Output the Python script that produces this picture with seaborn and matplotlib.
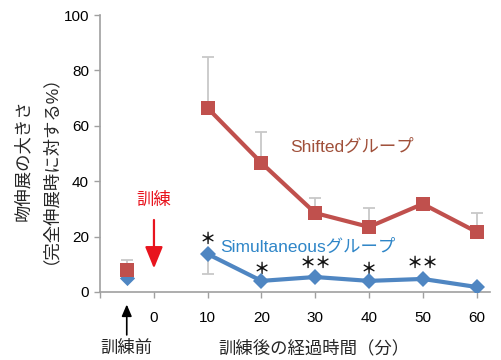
import matplotlib
matplotlib.use("Agg")
import matplotlib.pyplot as plt
import seaborn as sns
import pandas as pd

sns.set_theme(style="white")
plt.rcParams['font.family'] = ['Liberation Sans', 'Noto Sans CJK JP', 'DejaVu Sans']

# Time after training (min); the pre-training point sits at -5
times = [10, 20, 30, 40, 50, 60]
pre_x = -5

shifted = [66.4, 46.6, 28.5, 23.5, 31.8, 21.7]
shifted_err = [18.4, 11.2, 5.5, 6.8, 0.0, 6.8]
shifted_pre = 7.9
shifted_pre_err = 3.6

simul = [13.7, 4.0, 5.4, 4.0, 4.7, 1.8]
simul_err = [7.2, 0.0, 0.0, 0.0, 0.0, 0.0]
simul_pre = 5.0

stars = ["＊", "＊", "＊＊", "＊", "＊＊", ""]
star_y = [19, 8.5, 10.5, 8.5, 10.5, 0]

xticks = [-10, 0, 10, 20, 30, 40, 50, 60]
xticklabels = ["", "0", "10", "20", "30", "40", "50", "60"]

red = "#c0504d"
blue = "#4f86c2"
grey_err = "#c8c8c8"

fig = plt.figure(figsize=(5.01, 3.6), dpi=100)
ax = fig.add_axes([0.2, 0.189, 0.778, 0.769])

df_s = pd.DataFrame({"t": times, "v": shifted})
df_m = pd.DataFrame({"t": times, "v": simul})

# error bars (one-sided)
ax.errorbar(times, shifted, yerr=[[0] * 6, shifted_err], fmt="none",
            ecolor=grey_err, elinewidth=1.3, capsize=4, capthick=1.3, zorder=1)
ax.errorbar(times, simul, yerr=[simul_err, [0] * 6], fmt="none",
            ecolor=grey_err, elinewidth=1.3, capsize=4, capthick=1.3, zorder=1)
ax.errorbar([pre_x], [shifted_pre], yerr=[[0], [shifted_pre_err]], fmt="none",
            ecolor=grey_err, elinewidth=1.3, capsize=4, capthick=1.3, zorder=1)

sns.lineplot(data=df_s, x="t", y="v", ax=ax, color=red, lw=3, marker="s",
             markersize=10, markeredgewidth=0, zorder=3)
sns.lineplot(data=df_m, x="t", y="v", ax=ax, color=blue, lw=3, marker="D",
             markersize=8, markeredgewidth=0, zorder=4)
sns.scatterplot(x=[pre_x], y=[simul_pre], ax=ax, color=blue, marker="D",
                s=60, linewidth=0, zorder=3)
sns.scatterplot(x=[pre_x], y=[shifted_pre], ax=ax, color=red, marker="s",
                s=95, linewidth=0, zorder=4)

for t, s, y in zip(times, stars, star_y):
    if s:
        ax.text(t, y, s, ha="center", va="center", fontsize=11.5,
                color="#111111", family=["Noto Sans CJK JP"], fontweight="bold")

ax.text(25.3, 52.3, "Shiftedグループ", color="#a0503a", fontsize=12.5,
        ha="left", va="center")
ax.text(12.3, 16.2, "Simultaneousグループ", color="#2f86c8", fontsize=12.5,
        ha="left", va="center")

ax.text(0, 33.2, "訓練", color="#e8141e", fontsize=12.5, ha="center", va="center")
ax.annotate("", xy=(0, 7.5), xytext=(0, 27),
            arrowprops=dict(arrowstyle="-|>,head_width=0.45,head_length=1.1",
                            color="#e8141e", lw=1.6))

ax.set_xlim(-10, 62.5)
ax.set_ylim(0, 100)
ax.set_xticks(xticks)
ax.set_xticklabels(xticklabels)
ax.set_yticks([0, 20, 40, 60, 80, 100])
ax.tick_params(axis="both", direction="out", length=4, width=1, color="#a0a0a0",
               labelsize=11, labelcolor="black", pad=4, left=True, bottom=True)
ax.tick_params(axis="x", pad=10)
for side in ["top", "right"]:
    ax.spines[side].set_visible(False)
for side in ["left", "bottom"]:
    ax.spines[side].set_color("#a0a0a0")
    ax.spines[side].set_linewidth(1.2)
ax.set_xlabel("")
ax.set_ylabel("")

fig.text(0.627, 0.033, "訓練後の経過時間（分）", ha="center", va="center", fontsize=12.5)
fig.text(0.253, 0.033, "訓練前", ha="center", va="center", fontsize=12.5)
fig.text(0.045, 0.555, "吻伸展の大きさ", rotation=90, ha="center", va="center", fontsize=12.5)
fig.text(0.082, 0.555, "（完全伸展時に対する%）", rotation=90, ha="center", va="center", fontsize=12.5)
fig.add_artist(matplotlib.patches.FancyArrowPatch(
    (0.253, 0.062), (0.253, 0.162), transform=fig.transFigure,
    arrowstyle="-|>,head_width=3,head_length=7", color="black", lw=1.2))

fig.savefig("out.png", dpi=100)
